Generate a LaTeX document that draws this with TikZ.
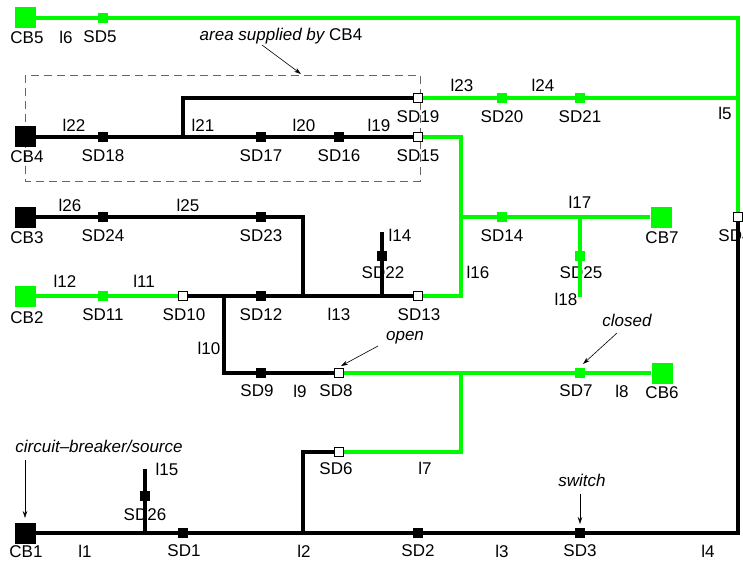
\documentclass[tikz,border=0pt]{standalone}
\usepackage{fontspec}
\setmainfont{Liberation Sans}
\usetikzlibrary{arrows.meta}
\definecolor{litegreen}{RGB}{0,250,0}

\begin{document}
\begin{tikzpicture}[x=1pt, y=-1pt,
                    every node/.style={font=\fontsize{17}{20}\selectfont, inner sep=0pt},
                    cb_black/.style={rectangle, fill=black, minimum size=21pt},
                    cb_green/.style={rectangle, fill=litegreen, minimum size=21pt},
                    sd_black/.style={rectangle, fill=black, minimum size=9.5pt},
                    sd_green/.style={rectangle, fill=litegreen, minimum size=9.5pt},
                    sd_open/.style={rectangle, draw=black, line width=0.7pt, fill=white, minimum size=8.5pt},
                    black_line/.style={draw=black, line width=3.1pt, line join=miter},
                    green_line/.style={draw=litegreen, line width=3.1pt, line join=miter},
                    note/.style={font=\fontsize{17}{20}\selectfont\itshape},
                    note_arrow/.style={draw=black, line width=0.6pt, -{Stealth[length=7pt,width=4.5pt]}}]
                    \useasboundingbox (0,0) rectangle (743,564);
                    \draw[black!60, line width=0.8pt, dash pattern=on 8pt off 5pt] (25,75) rectangle (420,181);
                    \node[cb_green] (CB5) at (25,18) {};
                    \node[sd_green] (SD5) at (103,18) {};
                    \coordinate (c_tr) at (738,18);
                    \node[sd_open] (SD4) at (738,217) {};
                    \coordinate (c_br) at (738,533);
                    \node[cb_black] (CB4) at (25,137) {};
                    \node[sd_black] (SD18) at (103,137) {};
                    \coordinate (j21) at (183,137);
                    \coordinate (j21t) at (183,98);
                    \node[sd_black] (SD17) at (261,137) {};
                    \node[sd_black] (SD16) at (339,137) {};
                    \node[sd_open] (SD15) at (418,137) {};
                    \node[sd_open] (SD19) at (418,98) {};
                    \node[sd_green] (SD20) at (502,98) {};
                    \node[sd_green] (SD21) at (580,98) {};
                    \coordinate (j5) at (738,98);
                    \coordinate (j16t) at (461,137);
                    \node[cb_black] (CB3) at (25,217) {};
                    \node[sd_black] (SD24) at (103,217) {};
                    \node[sd_black] (SD23) at (261,217) {};
                    \coordinate (j25) at (303,217);
                    \coordinate (j16m) at (461,217);
                    \node[sd_green] (SD14) at (502,217) {};
                    \coordinate (j17) at (580,217);
                    \node[cb_green] (CB7) at (661,217) {};
                    \node[sd_green] (SD25) at (580,256) {};
                    \coordinate (e18) at (580,297);
                    \node[cb_green] (CB2) at (25,296) {};
                    \node[sd_green] (SD11) at (103,296) {};
                    \node[sd_open] (SD10) at (183,296) {};
                    \coordinate (j10) at (224,296);
                    \node[sd_black] (SD12) at (261,296) {};
                    \coordinate (j13) at (303,296);
                    \coordinate (j14) at (382,296);
                    \node[sd_black] (SD22) at (382,256) {};
                    \coordinate (e14) at (382,232);
                    \node[sd_open] (SD13) at (418,296) {};
                    \coordinate (j16b) at (461,296);
                    \coordinate (j10b) at (224,373);
                    \node[sd_black] (SD9) at (261,373) {};
                    \node[sd_open] (SD8) at (339,373) {};
                    \coordinate (j7t) at (461,373);
                    \node[sd_green] (SD7) at (580,373) {};
                    \node[cb_green] (CB6) at (662,373) {};
                    \coordinate (j2t) at (303,452);
                    \node[sd_open] (SD6) at (339,452) {};
                    \coordinate (j7b) at (461,452);
                    \node[cb_black] (CB1) at (25,533) {};
                    \coordinate (j15) at (145,533);
                    \node[sd_black] (SD26) at (145,496) {};
                    \coordinate (e15) at (145,469);
                    \node[sd_black] (SD1) at (183,533) {};
                    \coordinate (j2) at (303,533);
                    \node[sd_black] (SD2) at (418,533) {};
                    \node[sd_black] (SD3) at (580,533) {};
                    \node (t_cb5) at (27,38) {CB5};
                    \node (t_l6) at (66,37) {l6};
                    \node (t_sd5) at (100,37) {SD5};
                    \node (t_l23) at (462,85) {l23};
                    \node (t_l24) at (543,85) {l24};
                    \node (t_sd19) at (418,117) {SD19};
                    \node (t_sd20) at (502,117) {SD20};
                    \node (t_sd21) at (580,117) {SD21};
                    \node (t_l5) at (725,113) {l5};
                    \node (t_l22) at (74,125) {l22};
                    \node (t_l21) at (203,125) {l21};
                    \node (t_l20) at (304,125) {l20};
                    \node (t_l19) at (379,125) {l19};
                    \node (t_cb4) at (27,157) {CB4};
                    \node (t_sd18) at (103,156) {SD18};
                    \node (t_sd17) at (261,156) {SD17};
                    \node (t_sd16) at (339,156) {SD16};
                    \node (t_sd15) at (418,156) {SD15};
                    \node (t_l26) at (70,205) {l26};
                    \node (t_l25) at (188,205) {l25};
                    \node (t_l17) at (580,202) {l17};
                    \node (t_cb3) at (27,238) {CB3};
                    \node (t_sd24) at (103,236) {SD24};
                    \node (t_sd23) at (261,236) {SD23};
                    \node (t_sd14) at (502,236) {SD14};
                    \node (t_cb7) at (662,238) {CB7};
                    \node (t_sd4) at (735,236) {SD4};
                    \node (t_l14) at (400,235) {l14};
                    \node (t_sd22) at (383,273) {SD22};
                    \node (t_sd25) at (581,273) {SD25};
                    \node (t_l16) at (478,272) {l16};
                    \node (t_l18) at (566,299) {l18};
                    \node (t_l12) at (65,281) {l12};
                    \node (t_l11) at (144,281) {l11};
                    \node (t_cb2) at (27,318) {CB2};
                    \node (t_sd11) at (103,315) {SD11};
                    \node (t_sd10) at (184,315) {SD10};
                    \node (t_sd12) at (261,315) {SD12};
                    \node (t_l13) at (339,314) {l13};
                    \node (t_sd13) at (419,315) {SD13};
                    \node (t_l10) at (209,348) {l10};
                    \node (t_sd9) at (257,391) {SD9};
                    \node (t_l9) at (300,391) {l9};
                    \node (t_sd8) at (336,391) {SD8};
                    \node (t_sd7) at (576,391) {SD7};
                    \node (t_l8) at (622,391) {l8};
                    \node (t_cb6) at (662,393) {CB6};
                    \node (t_sd6) at (336,469) {SD6};
                    \node (t_l7) at (425,468) {l7};
                    \node (t_l15) at (167,469) {l15};
                    \node (t_sd26) at (145,515) {SD26};
                    \node (t_cb1) at (26,552) {CB1};
                    \node (t_l1) at (85,551) {l1};
                    \node (t_sd1) at (184,551) {SD1};
                    \node (t_l2) at (304,551) {l2};
                    \node (t_sd2) at (418,551) {SD2};
                    \node (t_l3) at (502,551) {l3};
                    \node (t_sd3) at (580,551) {SD3};
                    \node (t_l4) at (708,551) {l4};
                    \draw[green_line] (CB5) -- (SD5) -- (c_tr) -- (SD4);
                    \draw[black_line] (SD4) -- (c_br) -- (SD3) -- (SD2) -- (j2) -- (SD1) -- (j15) -- (CB1);
                    \draw[black_line] (j15) -- (SD26) -- (e15);
                    \draw[black_line] (j2) -- (j2t) -- (SD6);
                    \draw[green_line] (SD6) -- (j7b) -- (j7t);
                    \draw[black_line] (j10) -- (j10b) -- (SD9) -- (SD8);
                    \draw[green_line] (SD8) -- (SD7) -- (CB6);
                    \draw[green_line] (CB2) -- (SD11) -- (SD10);
                    \draw[black_line] (SD10) -- (SD12) -- (SD13);
                    \draw[black_line] (CB3) -- (SD24) -- (SD23) -- (j25) -- (j13);
                    \draw[black_line] (j14) -- (SD22) -- (e14);
                    \draw[green_line] (SD13) -- (j16b) -- (j16t) -- (SD15);
                    \draw[green_line] (j16m) -- (SD14) -- (CB7);
                    \draw[green_line] (j17) -- (SD25) -- (e18);
                    \draw[black_line] (CB4) -- (SD18) -- (SD17) -- (SD16) -- (SD15);
                    \draw[black_line] (j21) -- (j21t) -- (SD19);
                    \draw[green_line] (SD19) -- (SD20) -- (SD21) -- (j5);
                    \node[note] (t_area) at (281,36) {area supplied by \upshape CB4};
                    \node[note] (t_cbs) at (99,446) {circuit–breaker/source};
                    \node[note] (t_switch) at (582,480) {switch};
                    \node[note] (t_open) at (405,338) {open};
                    \node[note] (t_closed) at (627,320) {closed};
                    \coordinate (a_area) at (262,45);
                    \coordinate (b_area) at (301,74);
                    \coordinate (a_cbs) at (25,460);
                    \coordinate (b_cbs) at (25,518);
                    \coordinate (a_switch) at (580,494);
                    \coordinate (b_switch) at (580,524);
                    \coordinate (a_open) at (378,346);
                    \coordinate (b_open) at (341,366);
                    \coordinate (a_closed) at (617,333);
                    \coordinate (b_closed) at (583,364);
                    \draw[note_arrow] (a_area) -- (b_area);
                    \draw[note_arrow] (a_cbs) -- (b_cbs);
                    \draw[note_arrow] (a_switch) -- (b_switch);
                    \draw[note_arrow] (a_open) -- (b_open);
                    \draw[note_arrow] (a_closed) -- (b_closed);
                \end{tikzpicture}
\end{document}
